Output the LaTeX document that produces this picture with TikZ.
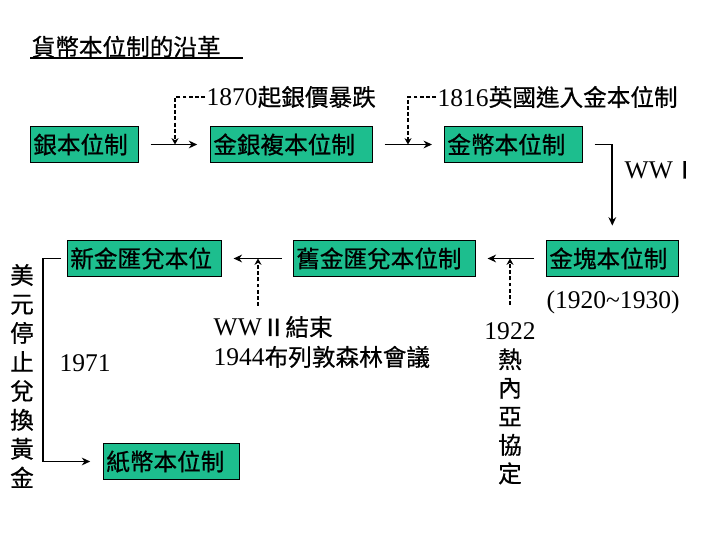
\documentclass[tikz,border=0pt]{standalone}
\usepackage{fontspec}
\setmainfont{Noto Sans CJK TC}[FakeBold=0.6]
\newfontfamily\numfont{Liberation Serif}[Scale=1.08]
\usetikzlibrary{arrows.meta, positioning, calc}
\definecolor{fdgreen}{HTML}{1DBE8E}
\newcommand{\cjksize}{\fontsize{16.8}{20.4}\selectfont}

\begin{document}
\begin{tikzpicture}[every node/.style={font=\cjksize},
  stdbox/.style={rectangle, draw=black, line width=0.7pt, fill=fdgreen, anchor=west, minimum height=0.92cm, inner xsep=2pt, inner ysep=0pt, align=left},
  flow/.style={-{Stealth[length=6pt, width=5.5pt]}, line width=1.3pt},
  cause/.style={-{Stealth[length=4.5pt, width=5pt]}, line width=1.1pt, dash pattern=on 2.8pt off 1.6pt},
  lbl/.style={inner sep=1pt, anchor=west},
]
\useasboundingbox (0,0) rectangle (18,13.5);
% title
\node[lbl] (title) at (0.75,12.33) {貨幣本位制的沿革};
\coordinate (tend) at (6.075,12.05);
\draw[line width=0.9pt] (title.south west |- tend) -- (tend);
% systems
\node[stdbox, text width=2.55cm] (yinben) at (0.75,9.8875) {銀本位制};
\node[stdbox, text width=3.92cm] (fuben) at (5.25,9.8875) {金銀複本位制};
\node[stdbox, text width=3.3cm] (jinbi) at (11.1,9.8875) {金幣本位制};
\node[stdbox, text width=3.15cm] (jinkuai) at (13.65,7.0375) {金塊本位制};
\node[stdbox, text width=4.4cm] (jiuhui) at (7.325,7.0375) {舊金匯兌本位制};
\node[stdbox, text width=3.72cm] (xinhui) at (1.675,7.0375) {新金匯兌本位};
\node[stdbox, text width=3.27cm] (zhibi) at (2.575,1.9625) {紙幣本位制};
% events
\node[lbl] (y1870) at (5.125,11.075) {{\numfont 1870}起銀價暴跌};
\node[lbl] (y1816) at (10.9,11.075) {{\numfont 1816}英國進入金本位制};
\node[lbl] (ww1) at (15.575,9.25) {{\numfont WW}Ⅰ};
\node[lbl] (period) at (13.625,5.95) {\numfont (1920\char"7E 1930)};
\node[lbl, align=left, font=\fontsize{16.8}{21.3}\selectfont] (bw) at (5.3,4.95) {{\numfont WW}Ⅱ結束\\{\numfont 1944}布列敦森林會議};
\node[lbl] (y1971) at (1.45,4.425) {\numfont 1971};
\node[align=center, inner sep=1pt, font=\fontsize{16.8}{20.3}\selectfont] (genoa) at (12.75,3.41) {{\numfont 1922}\\熱\\內\\亞\\協\\定};
\node[align=center, inner sep=1pt, font=\fontsize{16.8}{20.6}\selectfont] (usd) at (0.55,4.1) {美\\元\\停\\止\\兌\\換\\黃\\金};
% connectors
\coordinate (m1) at (4.375,9.8875);
\coordinate (m2) at (10.2,9.8875);
\coordinate (m4) at (12.75,7.0375);
\coordinate (s4) at (12.75,5.875);
\coordinate (m5) at (6.45,7.0375);
\coordinate (s5) at (6.45,5.85);
\coordinate (bend) at (1.075,7.0375);
\draw[flow, shorten <=0.3cm, shorten >=0.32cm] (yinben) -- (fuben);
\draw[cause] (y1870.west) -| (m1);
\draw[flow, shorten <=0.28cm, shorten >=0.3cm] (fuben) -- (jinbi);
\draw[cause] (y1816.west) -| (m2);
\draw[flow, shorten <=0.3cm, shorten >=0.35cm] (jinbi) -| (jinkuai);
\draw[flow, shorten <=0.3cm, shorten >=0.3cm] (jinkuai) -- (jiuhui);
\draw[cause] (s4) -- (m4);
\draw[flow, shorten <=0.28cm, shorten >=0.28cm] (jiuhui) -- (xinhui);
\draw[cause] (s5) -- (m5);
\draw[flow, shorten <=0.15cm, shorten >=0.32cm] (xinhui.west) -- (bend) |- (zhibi);
\end{tikzpicture}
\end{document}
